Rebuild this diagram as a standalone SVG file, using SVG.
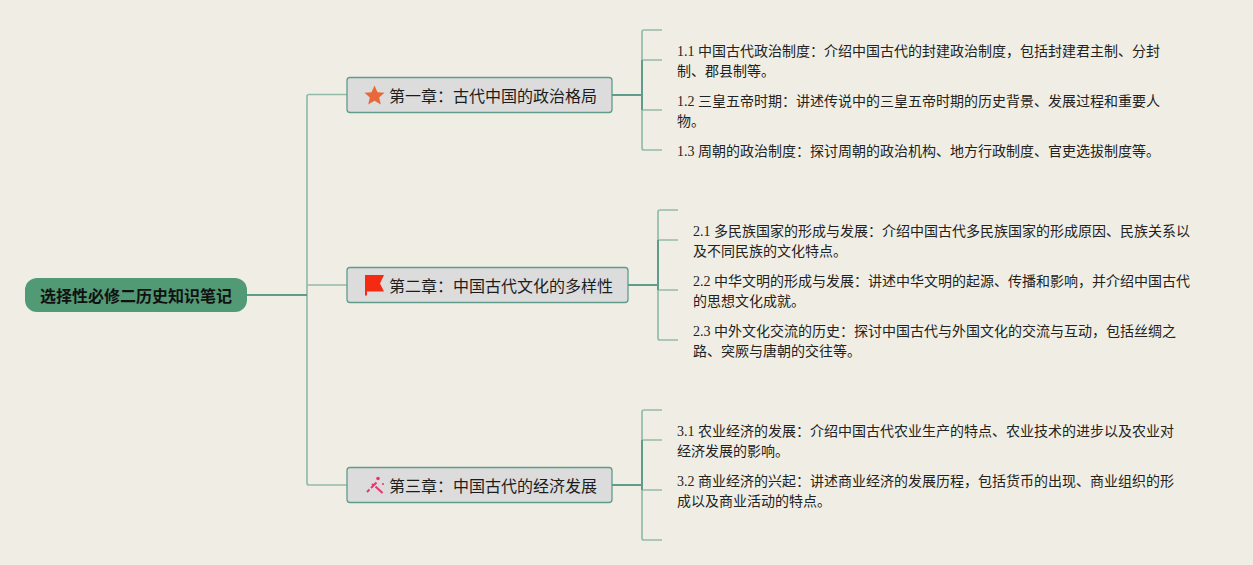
<svg xmlns="http://www.w3.org/2000/svg" width="1253" height="565" viewBox="0 0 1253 565">
<style>
.bg{fill:#f0eee4}
.root{fill:#529a75}
.rt{font:bold 16px "Noto Sans CJK SC","Noto Sans CJK TC",sans-serif;fill:#111}
.ch{fill:#dcdcdc;stroke:#5f9c8c;stroke-width:1.3}
.ct{font:16px "Noto Sans CJK SC",sans-serif;fill:#1c1c1c}
.t{font:14px "Liberation Serif","Noto Sans CJK SC",sans-serif;fill:#222}
.l{fill:none;stroke:#93bba9;stroke-width:1.7}
.d{fill:none;stroke:#5f9c8c;stroke-width:2}
</style>
<rect class="bg" width="1253" height="565"/>
<g id="connectors">
<path class="l" d="M347 94.500H309Q307 94.500 307 96.500V483Q307 485 309 485H347M307 285H347"/>
<path class="d" d="M246 295H307"/>
<path class="l" d="M662 30H644Q642 30 642 32V148Q642 150 644 150H662M642 60H662M642 110H662"/>
<path class="d" d="M612 95H642M642 60V110"/>
<path class="l" d="M678 210H660Q658 210 658 212V338Q658 340 660 340H678M658 240H678M658 290H678"/>
<path class="d" d="M628 285H658M658 240V290"/>
<path class="l" d="M662 410H644Q642 410 642 412V538Q642 540 644 540H662M642 440H662M642 490H662"/>
<path class="d" d="M612 485H642M642 440V490"/>
</g>
<g id="root"><rect class="root" x="25" y="278" width="222" height="34" rx="12"/><text class="rt" x="40" y="301.500">选择性必修二历史知识笔记</text></g>
<g id="ch1"><rect class="ch" x="347" y="77.500" width="265" height="35" rx="3"/>
<path fill="#e8683a" d="M374.500 85.500l3 6.700 7 .6-5.300 4.700 1.600 7-6.300-3.700-6.300 3.700 1.600-7-5.300-4.700 7-.6z"/>
<text class="ct" x="389" y="101.500">第一章：古代中国的政治格局</text></g>
<g id="ch2"><rect class="ch" x="347" y="267.500" width="281" height="35" rx="3"/>
<path fill="#f42a12" d="M365 275H384L380 283.500L384 291.500H367V295.500H365Z"/>
<text class="ct" x="389" y="291.500">第二章：中国古代文化的多样性</text></g>
<g id="ch3"><rect class="ch" x="347" y="467.500" width="265" height="35" rx="3"/>
<path stroke="#e8356f" stroke-width="2" fill="none" d="M367 492L369.500 489.500M371 488L376.500 482.500M372 484L374 485.500M375.500 486.500L382.500 493"/><circle cx="378" cy="478.500" r="1.800" fill="#e8356f"/><circle cx="383" cy="484" r="1" fill="#e8356f"/>
<text class="ct" x="389" y="491.500">第三章：中国古代的经济发展</text></g>
<g id="t11"><text class="t" x="677" y="56">1.1 中国古代政治制度：介绍中国古代的封建政治制度，包括封建君主制、分封</text><text class="t" x="677" y="76">制、郡县制等。</text></g>
<g id="t12"><text class="t" x="677" y="106">1.2 三皇五帝时期：讲述传说中的三皇五帝时期的历史背景、发展过程和重要人</text><text class="t" x="677" y="126">物。</text></g>
<g id="t13"><text class="t" x="677" y="156">1.3 周朝的政治制度：探讨周朝的政治机构、地方行政制度、官吏选拔制度等。</text></g>
<g id="t21"><text class="t" x="693" y="236">2.1 多民族国家的形成与发展：介绍中国古代多民族国家的形成原因、民族关系以</text><text class="t" x="693" y="256">及不同民族的文化特点。</text></g>
<g id="t22"><text class="t" x="693" y="286">2.2 中华文明的形成与发展：讲述中华文明的起源、传播和影响，并介绍中国古代</text><text class="t" x="693" y="306">的思想文化成就。</text></g>
<g id="t23"><text class="t" x="693" y="336">2.3 中外文化交流的历史：探讨中国古代与外国文化的交流与互动，包括丝绸之</text><text class="t" x="693" y="356">路、突厥与唐朝的交往等。</text></g>
<g id="t31"><text class="t" x="677" y="436">3.1 农业经济的发展：介绍中国古代农业生产的特点、农业技术的进步以及农业对</text><text class="t" x="677" y="456">经济发展的影响。</text></g>
<g id="t32"><text class="t" x="677" y="486">3.2 商业经济的兴起：讲述商业经济的发展历程，包括货币的出现、商业组织的形</text><text class="t" x="677" y="506">成以及商业活动的特点。</text></g>
</svg>
